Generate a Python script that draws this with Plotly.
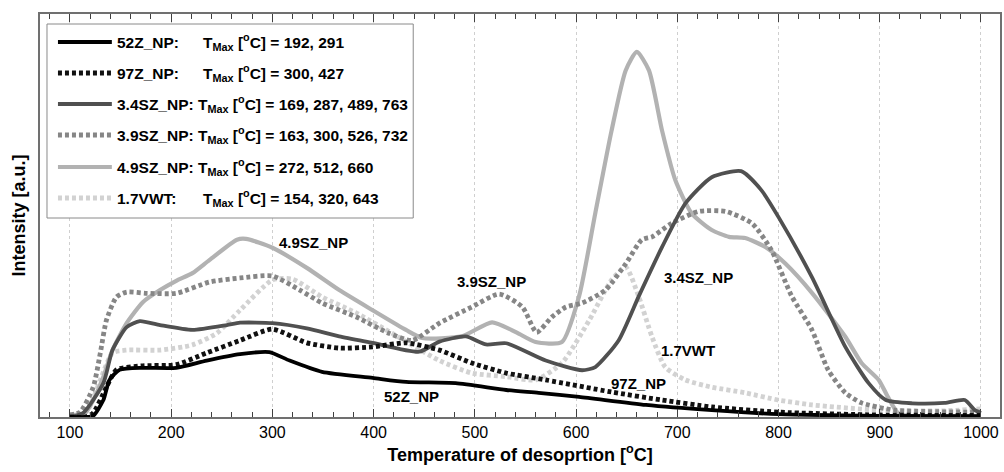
import plotly.graph_objects as go

# ---------------- data ----------------
T52 = [100, 115, 123, 133, 139, 149, 172, 205, 235, 268, 297, 317, 349, 399, 432, 481, 531, 563, 603, 669, 734, 800, 900, 1000]
I52 = [0, 0, 0.3, 4.2, 9.2, 11.7, 12.2, 12.2, 14, 15.6, 16.1, 14, 11.2, 9.7, 8.7, 8.4, 6.7, 6, 5, 3, 1.7, 0.7, 0.3, 0.2]

T97 = [100, 115, 123, 136, 146, 172, 205, 235, 268, 300, 334, 366, 399, 432, 465, 497, 531, 570, 635, 685, 734, 800, 900, 1000]
I97 = [0, 0, 1, 7.4, 11.7, 12.7, 13, 15.9, 19, 21.8, 18.4, 17.1, 17.4, 18.4, 16.6, 13.4, 10.9, 9.2, 6.2, 4.2, 2.5, 1.2, 0.5, 0.4]

T34 = [100, 113, 133, 142, 156, 169, 189, 221, 255, 268, 300, 334, 366, 399, 445, 465, 491, 511, 531, 570, 606, 619, 642, 662, 685, 708, 734, 763, 783, 800, 833, 866, 889, 906, 932, 964, 984, 994, 1000]
I34 = [0, 1, 8.4, 16.6, 22.3, 23.8, 22.8, 21.6, 22.8, 23.4, 23.3, 22, 20, 18.4, 16.2, 18.7, 20, 18, 18.3, 14, 11.6, 12.4, 19, 30, 42.2, 53, 59.5, 61, 56.3, 49.6, 34.7, 17.4, 8.4, 4.2, 3.4, 3.5, 4.2, 1.7, 1]

T39 = [100, 110, 123, 130, 136, 146, 156, 176, 205, 238, 268, 300, 327, 349, 383, 415, 438, 465, 497, 524, 547, 561, 576, 590, 606, 629, 649, 665, 675, 694, 721, 748, 774, 793, 813, 833, 849, 866, 882, 915, 1000]
I39 = [0.5, 1.2, 7.4, 15.9, 24, 29.8, 31, 30.7, 30.7, 33.5, 34.5, 35, 31.5, 28.3, 24.8, 20.8, 19, 23.3, 27.3, 30.5, 27.3, 21, 24.8, 27.3, 28.3, 31.5, 38, 44, 44.7, 48, 51, 51, 48, 41.4, 30, 21.6, 11.7, 6, 3.5, 1.7, 1.2]

T49 = [100, 115, 123, 133, 142, 156, 172, 189, 205, 221, 238, 265, 274, 300, 334, 366, 399, 432, 448, 487, 517, 541, 560, 586, 603, 619, 635, 649, 660, 672, 685, 698, 714, 734, 751, 767, 787, 807, 833, 866, 882, 899, 908, 918, 930, 1000]
I49 = [0.5, 1, 4.2, 10, 16.6, 23.3, 28.5, 31.5, 33.8, 35.7, 39, 44, 44.2, 42, 37, 31.5, 26.5, 21.6, 19.6, 20, 23.5, 21, 18.6, 18.6, 30, 50.6, 71, 86, 90.6, 86, 71, 58.8, 50.6, 46.4, 44.7, 44.4, 42.2, 38, 30.8, 19.9, 13.4, 9.2, 5, 1, 0.2, 0.2]

T17 = [100, 117, 130, 142, 156, 189, 221, 245, 268, 300, 320, 349, 383, 418, 465, 497, 531, 560, 586, 613, 635, 649, 662, 675, 688, 708, 734, 767, 800, 833, 899, 960, 1000]
I17 = [0.5, 1.7, 9.2, 15.9, 16.6, 16.6, 17.9, 20.8, 26.5, 34, 34.2, 29.8, 25.8, 20.8, 14, 10.9, 10, 9.2, 13.4, 24, 34, 37.2, 29.8, 19.9, 12.4, 9.2, 7.4, 6, 4.2, 3, 1.7, 1.5, 2]

names = ["52Z_NP:", "97Z_NP:", "3.4SZ_NP:", "3.9SZ_NP:", "4.9SZ_NP:", "1.7VWT:"]
tmax_text = ["192, 291", "300, 427", "169, 287, 489, 763", "163, 300, 526, 732", "272, 512, 660", "154, 320, 643"]

curve_labels = ["4.9SZ_NP", "3.9SZ_NP", "3.4SZ_NP", "1.7VWT", "97Z_NP", "52Z_NP"]
curve_label_x = [341, 516, 721, 711, 662, 437]
curve_label_y = [43.4, 33.7, 34.5, 16.6, 8.4, 5.0]

x_ticks = [100, 200, 300, 400, 500, 600, 700, 800, 900, 1000]

# ---------------- styles ----------------
DOT = "4px,3px"
series = [
    (T17, I17, "#d2d2d2", 4.8, DOT),
    (T49, I49, "#b2b2b2", 4.2, "solid"),
    (T39, I39, "#868686", 4.8, DOT),
    (T34, I34, "#505050", 3.8, "solid"),
    (T97, I97, "#111111", 4.8, DOT),
    (T52, I52, "#000000", 3.8, "solid"),
]
legend_styles = [
    ("#000000", 3.8, "solid"),
    ("#111111", 4.8, DOT),
    ("#505050", 3.8, "solid"),
    ("#868686", 4.8, DOT),
    ("#b2b2b2", 4.2, "solid"),
    ("#d2d2d2", 4.8, DOT),
]

W, H = 1004, 472
ML, MR, MT, MB = 40, 2, 14, 55
PW, PH = W - ML - MR, H - MT - MB
XR = [70.4, 1018.8]


def px2paper_x(px):
    return (px - ML) / PW


def py2paper_y(py):
    return (H - MB - py) / PH


fig = go.Figure()
for tx, iy, col, wd, dash in series:
    fig.add_trace(go.Scatter(x=tx, y=iy, mode="lines",
                             line=dict(color=col, width=wd, dash=dash, shape="spline", smoothing=0.6),
                             showlegend=False, hoverinfo="skip"))

FONT = "Liberation Sans, Arial, sans-serif"

# curve labels
for txt, lx, ly in zip(curve_labels, curve_label_x, curve_label_y):
    fig.add_annotation(x=lx, y=ly, text="<b>%s</b>" % txt, showarrow=False,
                       font=dict(family=FONT, size=15, color="black"))

# manual legend
shapes = [dict(type="rect", xref="paper", yref="paper",
               x0=px2paper_x(47), x1=px2paper_x(414), y0=py2paper_y(218), y1=py2paper_y(24),
               line=dict(color="#8a8a8a", width=1), fillcolor="white", layer="above")]
row_y = [42, 73, 104, 135, 167, 198]
for i, (col, wd, dash) in enumerate(legend_styles):
    yy = py2paper_y(row_y[i])
    shapes.append(dict(type="line", xref="paper", yref="paper",
                       x0=px2paper_x(58), x1=px2paper_x(112), y0=yy, y1=yy,
                       line=dict(color=col, width=wd, dash=dash), layer="above"))
fig.update_layout(shapes=shapes)

LFS = 15.5
for i, nm in enumerate(names):
    yy = py2paper_y(row_y[i])
    tm = "T<sub>Max</sub> [<sup>o</sup>C] = " + tmax_text[i]
    if i in (2, 3, 4):
        fig.add_annotation(xref="paper", yref="paper", x=px2paper_x(115), y=yy,
                           xanchor="left", yanchor="middle", showarrow=False,
                           text="<b>%s %s</b>" % (nm, tm),
                           font=dict(family=FONT, size=LFS, color="black"))
    else:
        fig.add_annotation(xref="paper", yref="paper", x=px2paper_x(115), y=yy,
                           xanchor="left", yanchor="middle", showarrow=False,
                           text="<b>%s</b>" % nm,
                           font=dict(family=FONT, size=LFS, color="black"))
        fig.add_annotation(xref="paper", yref="paper", x=px2paper_x(201), y=yy,
                           xanchor="left", yanchor="middle", showarrow=False,
                           text="<b>%s</b>" % tm,
                           font=dict(family=FONT, size=LFS, color="black"))

fig.update_layout(
    width=W, height=H,
    margin=dict(l=ML, r=MR, t=MT, b=MB),
    paper_bgcolor="white", plot_bgcolor="white",
    font=dict(family=FONT, color="black"),
    xaxis=dict(range=XR, tickmode="array", tickvals=x_ticks,
               ticktext=[str(v) for v in x_ticks],
               tickfont=dict(size=16, family=FONT, color="black"),
               ticks="inside", ticklen=8, tickwidth=1.2, tickcolor="#404040",
               minor=dict(ticks="inside", dtick=20, tick0=0, ticklen=5, tickwidth=1,
                          tickcolor="#404040", showgrid=False),
               showgrid=True, gridcolor="#cfcfcf", griddash="dot", gridwidth=1,
               showline=True, linecolor="#707070", linewidth=1.5, mirror="ticks",
               zeroline=False,
               title=dict(text="<b>Temperature of desoprtion [<sup>o</sup>C]</b>",
                          font=dict(size=18, family=FONT, color="black"), standoff=8)),
    yaxis=dict(range=[0, 100], showticklabels=False, ticks="", showgrid=False,
               zeroline=False, showline=True, linecolor="#707070", linewidth=1.5, mirror=True,
               title=dict(text="<b>Intensity [a.u.]</b>",
                          font=dict(size=18, family=FONT, color="black"), standoff=8)),
)

fig.write_html("out.html")
